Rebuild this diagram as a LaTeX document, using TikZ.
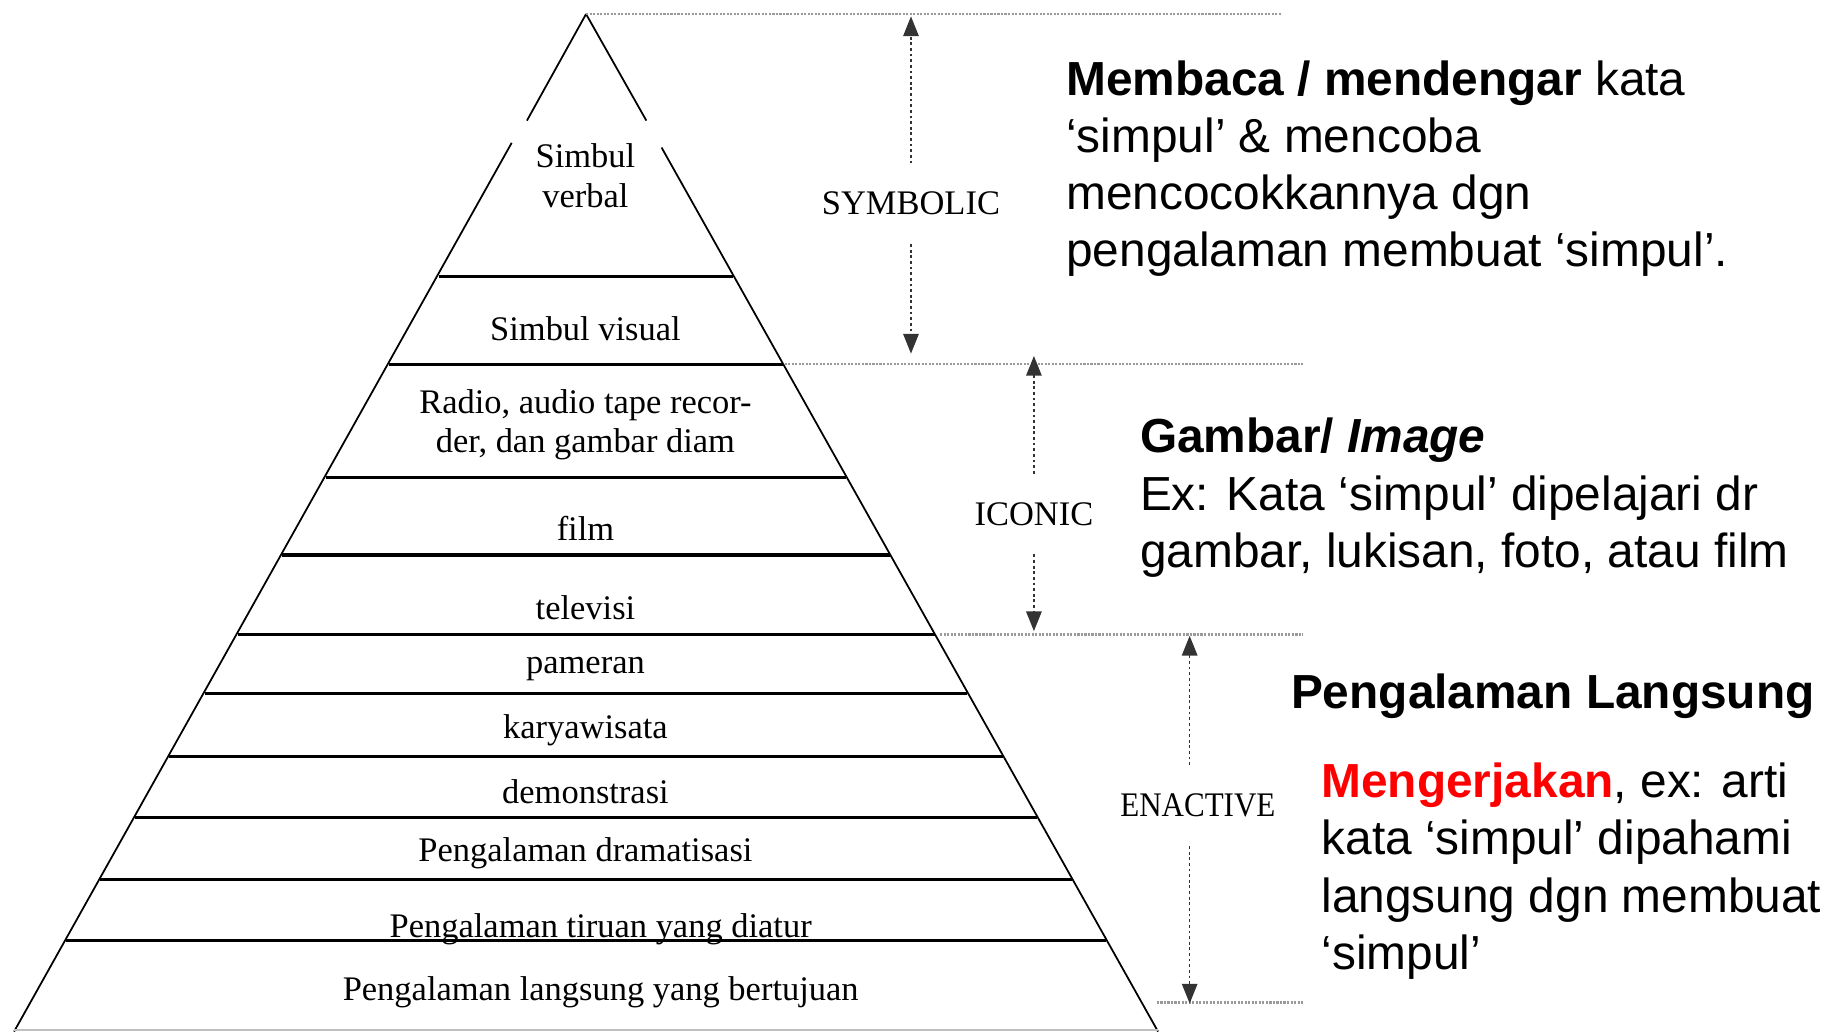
\documentclass[tikz,border=0pt]{standalone}
\usepackage{fontspec}
\setmainfont{Liberation Serif}
\newfontfamily\arialfont{Liberation Sans}
\usepackage{tikz}
\usetikzlibrary{arrows.meta}
\definecolor{guidegray}{HTML}{9a9a9a}
\definecolor{doitred}{HTML}{ff0000}
\tikzset{
  sideline/.style={draw=black, line width=0.5pt},
  layerline/.style={draw=black, line width=0.9pt},
  levellabel/.style={
    font=\fontsize{9.8}{11.2}\selectfont, align=center, inner sep=1pt
  },
  guideline/.style={draw=guidegray, line width=0.7pt, dash pattern=on 0.6pt off 0.4pt},
  spanarrow/.style={
    draw=black!80, line width=0.4pt, dash pattern=on 0.8pt off 0.8pt,
    -{Triangle[length=5.6pt, width=4.4pt]}, shorten <=7pt
  },
  spanlabel/.style={font=\fontsize{9.8}{11.2}\selectfont, inner sep=1pt},
  notetext/.style={
    font=\arialfont\fontsize{13.6}{16.3}\selectfont,
    align=left, anchor=west, inner sep=0pt
  }
}

\begin{document}
\begin{tikzpicture}[x=0.01171cm, y=-0.01171cm]
  \useasboundingbox (0,0) rectangle (1568,881);

  % pyramid outline
  \coordinate (apex) at (500.5,12);
  \draw[sideline] (apex) -- (450,103);
  \draw[sideline] (437,122) -- (12,881);
  \draw[sideline] (apex) -- (552,103);
  \draw[sideline] (565,126) -- (989,881);
  \draw[draw=black!25, line width=0.6pt] (12,880) -- (989,880);

  \foreach \yy in {236,311,408,474,542,592,646,698,751,803}
    \draw[layerline] ({500.5-0.5616*(\yy-12)},\yy) -- ({500.5+0.5616*(\yy-12)},\yy);

  % levels
  \node[levellabel] (verbal)   at (500,150) {Simbul\\verbal};
  \node[levellabel] (visual)   at (500,281) {Simbul visual};
  \node[levellabel] (radio)    at (500,363) {Radio, audio tape recor-\\der, dan gambar diam};
  \node[levellabel] (film)     at (500,451) {film};
  \node[levellabel] (tv)       at (500,519) {televisi};
  \node[levellabel] (pameran)  at (500,571) {pameran};
  \node[levellabel] (karya)    at (500,624) {karyawisata};
  \node[levellabel] (demo)     at (500,676) {demonstrasi};
  \node[levellabel] (drama)    at (500,729) {Pengalaman dramatisasi};
  \node[levellabel] (tiruan)   at (513,794) {Pengalaman tiruan yang diatur};
  \node[levellabel] (langsung) at (513,847) {Pengalaman langsung yang bertujuan};

  % guide lines
  \draw[guideline] (apex) -- (1095,12);
  \draw[guideline] (670,311) -- (1113,311);
  \draw[guideline] (803,542) -- (1113,542);
  \draw[guideline] (988,856) -- (1113,856);

  % spans
  \coordinate (symtop) at (778,14);
  \coordinate (symbot) at (778,302);
  \coordinate (icotop) at (883,304);
  \coordinate (icobot) at (883,539);
  \coordinate (enatop) at (1016,543);
  \coordinate (enabot) at (1016,857);

  \node[spanlabel] (symbolic) at (778,174) {SYMBOLIC};
  \node[spanlabel] (iconic)   at (883,439) {ICONIC};
  \node[spanlabel, xscale=0.9] (enactive) at (1023,688) {ENACTIVE};

  \draw[spanarrow] (symbolic.north) -- (symtop);
  \draw[spanarrow] (symbolic.south) -- (symbot);
  \draw[spanarrow] (iconic.north) -- (icotop);
  \draw[spanarrow] (iconic.south) -- (icobot);
  \draw[spanarrow] (enactive.north -| enatop) -- (enatop);
  \draw[spanarrow] (enactive.south -| enabot) -- (enabot);

  % notes
  \node[notetext] (symnote) at (910,144)
    {\textbf{Membaca / mendengar} kata\\‘simpul’ \& mencoba\\mencocokkannya dgn\\pengalaman membuat ‘simpul’.};
  \node[notetext] (iconote) at (973,425)
    {\textbf{Gambar/ \textit{Image}}\\Ex: Kata ‘simpul’ dipelajari dr\\gambar, lukisan, foto, atau film};
  \node[notetext] (enahead) at (1102,595) {\textbf{Pengalaman Langsung}};
  \node[notetext] (enanote) at (1128,744)
    {\textcolor{doitred}{\textbf{Mengerjakan}}, ex: arti\\kata ‘simpul’ dipahami\\langsung dgn membuat\\‘simpul’};
\end{tikzpicture}
\end{document}
